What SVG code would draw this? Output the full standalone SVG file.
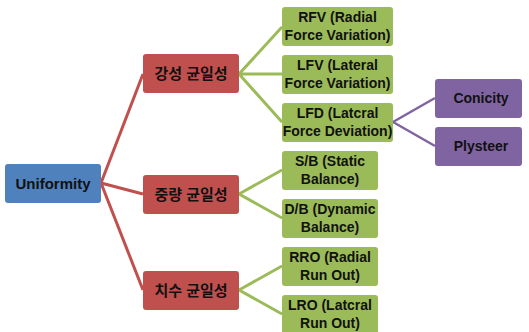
<svg xmlns="http://www.w3.org/2000/svg" width="529" height="332" viewBox="0 0 529 332">
<style>
.t{font-family:"Liberation Sans",Arial,sans-serif;font-weight:bold;font-size:14px;fill:#111;text-anchor:middle}
.k{font-family:"Liberation Sans","Noto Sans CJK KR",sans-serif;font-weight:bold;font-size:15px;fill:#111;text-anchor:middle}
.blue{fill:#4F81BD}
.red{fill:#C0504D}
.green{fill:#9BBB59}
.purple{fill:#8064A2}
.lr{stroke:#C0504D;stroke-width:3;fill:none}
.lg{stroke:#9BBB59;stroke-width:3;fill:none}
.lp{stroke:#8064A2;stroke-width:2.5;fill:none}
</style>
<rect width="529" height="332" fill="#ffffff"/>
<g id="connectors">
<path class="lr" d="M101,183 L143,74 M101,183 L143,194 M101,183 L143,290"/>
<path class="lg" d="M239,74 L282,27 M239,74 L282,74 M239,74 L282,122"/>
<path class="lg" d="M239,194 L282,170 M239,194 L282,218"/>
<path class="lg" d="M239,290 L282,266 M239,290 L282,314"/>
<path class="lp" d="M393,122 L435,98 M393,122 L435,146"/>
</g>
<g id="uniformity"><rect class="blue" x="5" y="164" width="96" height="39" rx="3"/><text class="t" x="53" y="189" style="font-size:15px">Uniformity</text></g>
<g id="gangseong"><rect class="red" x="143" y="54" width="96" height="39" rx="3"/><text class="k" x="191" y="79">강성 균일성</text></g>
<g id="jungryang"><rect class="red" x="143" y="175" width="96" height="39" rx="3"/><text class="k" x="191" y="200">중량 균일성</text></g>
<g id="chisu"><rect class="red" x="143" y="271" width="96" height="39" rx="3"/><text class="k" x="191" y="296">치수 균일성</text></g>
<g id="rfv"><rect class="green" x="282" y="7" width="111" height="39" rx="3"/><text class="t" x="337.5" y="22">RFV (Radial</text><text class="t" x="337.5" y="40">Force Variation)</text></g>
<g id="lfv"><rect class="green" x="282" y="55" width="111" height="39" rx="3"/><text class="t" x="337.5" y="70">LFV (Lateral</text><text class="t" x="337.5" y="88">Force Variation)</text></g>
<g id="lfd"><rect class="green" x="282" y="103" width="111" height="39" rx="3"/><text class="t" x="337.5" y="118">LFD (Latcral</text><text class="t" x="337.5" y="136">Force Deviation)</text></g>
<g id="sb"><rect class="green" x="282" y="151" width="96" height="39" rx="3"/><text class="t" x="330" y="166">S/B (Static</text><text class="t" x="330" y="184">Balance)</text></g>
<g id="db"><rect class="green" x="282" y="199" width="96" height="39" rx="3"/><text class="t" x="330" y="214">D/B (Dynamic</text><text class="t" x="330" y="232">Balance)</text></g>
<g id="rro"><rect class="green" x="282" y="247" width="96" height="39" rx="3"/><text class="t" x="330" y="262">RRO (Radial</text><text class="t" x="330" y="280">Run Out)</text></g>
<g id="lro"><rect class="green" x="282" y="295" width="96" height="39" rx="3"/><text class="t" x="330" y="310">LRO (Latcral</text><text class="t" x="330" y="328">Run Out)</text></g>
<g id="conicity"><rect class="purple" x="435" y="79" width="87" height="39" rx="3"/><text class="t" x="481" y="103">Conicity</text></g>
<g id="plysteer"><rect class="purple" x="435" y="127" width="87" height="39" rx="3"/><text class="t" x="481" y="151">Plysteer</text></g>
</svg>
